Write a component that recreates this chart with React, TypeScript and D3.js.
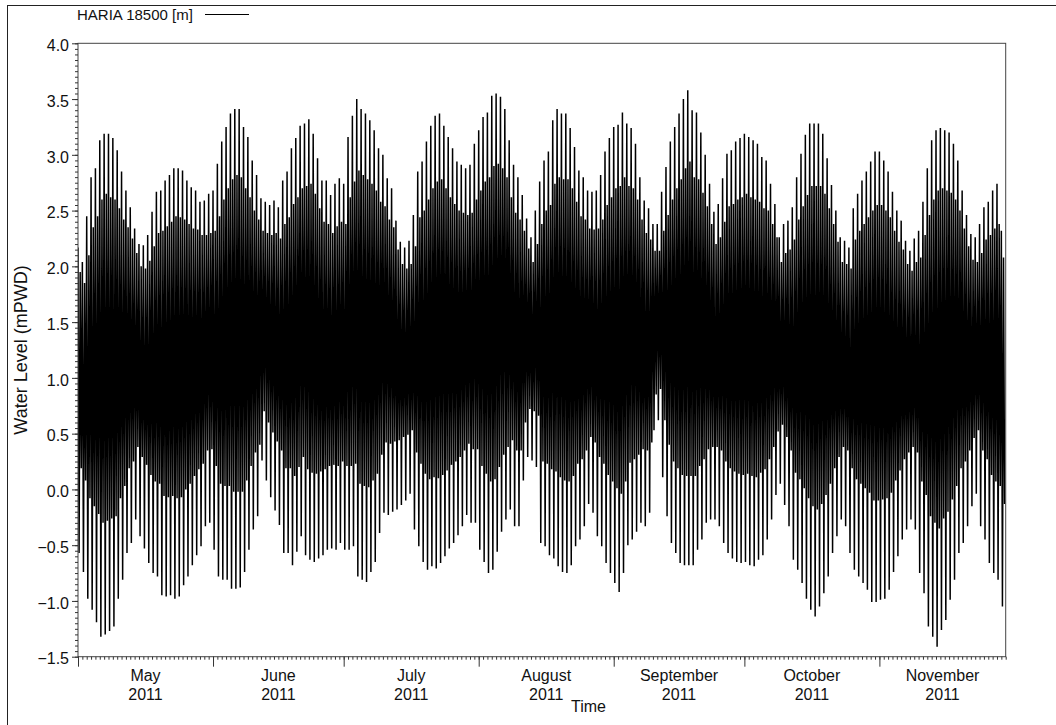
import { useEffect, useRef } from 'react';
import * as d3 from 'd3';

// time span of the record (UTC)
const START = Date.UTC(2011, 4, 1);
const END = Date.UTC(2011, 10, 30);
const DAY = 86400000;

const seriesName = 'HARIA 18500 [m]';
const monthLabels = ['May', 'June', 'July', 'August', 'September', 'October', 'November'];
const yearLabel = '2011';
const yTicks = [-1.5, -1.0, -0.5, 0.0, 0.5, 1.0, 1.5, 2.0, 2.5, 3.0, 3.5, 4.0];

// daily higher high water (m), 1 May .. 29 Nov
const highHigh = [
  2.17, 2.04, 2.45, 2.80, 2.88, 3.13, 3.19, 3.19, 3.15, 3.04,
  2.85, 2.68, 2.53, 2.34, 2.20, 2.19, 2.28, 2.49, 2.67, 2.68,
  2.77, 2.82, 2.88, 2.88, 2.86, 2.77, 2.71, 2.68, 2.58, 2.59,
  2.65, 2.68, 2.92, 3.12, 3.25, 3.37, 3.41, 3.41, 3.25, 3.16,
  2.95, 2.82, 2.61, 2.58, 2.55, 2.59, 2.53, 2.77, 2.85, 3.06,
  3.15, 3.26, 3.28, 3.32, 3.19, 2.97, 2.77, 2.77, 2.64, 2.74,
  2.79, 2.74, 3.16, 3.35, 3.50, 3.41, 3.37, 3.31, 3.22, 3.06,
  3.00, 2.79, 2.70, 2.41, 2.22, 2.17, 2.23, 2.46, 2.85, 2.94,
  3.12, 3.26, 3.35, 3.37, 3.26, 3.16, 3.06, 2.94, 2.91, 2.88,
  2.91, 3.10, 3.22, 3.34, 3.38, 3.53, 3.55, 3.52, 3.41, 3.13,
  2.91, 2.80, 2.64, 2.43, 2.26, 2.50, 2.76, 2.95, 3.03, 3.31,
  3.41, 3.37, 3.37, 3.24, 3.07, 2.86, 2.80, 2.68, 2.67, 2.68,
  2.82, 3.03, 3.15, 3.25, 3.27, 3.38, 3.28, 3.24, 3.10, 2.80,
  2.59, 2.52, 2.38, 2.38, 2.67, 2.89, 3.12, 3.25, 3.37, 3.50,
  3.58, 3.40, 3.38, 3.20, 3.00, 2.74, 2.49, 2.56, 2.79, 3.01,
  3.04, 3.12, 3.15, 3.19, 3.16, 3.13, 3.10, 2.98, 2.95, 2.74,
  2.56, 2.26, 2.38, 2.41, 2.53, 2.80, 3.01, 3.18, 3.28, 3.28,
  3.28, 3.19, 2.97, 2.73, 2.50, 2.26, 2.23, 2.17, 2.52, 2.65,
  2.77, 2.85, 2.94, 3.03, 3.03, 2.95, 2.85, 2.67, 2.50, 2.41,
  2.23, 2.14, 2.25, 2.32, 2.58, 2.88, 3.13, 3.22, 3.24, 3.22,
  3.20, 3.10, 2.95, 2.68, 2.46, 2.29, 2.26, 2.38, 2.53, 2.58,
  2.68, 2.74, 2.32,
];

// daily lower high water (m)
const lowHigh = [
  1.95, 1.85, 2.10, 2.35, 2.45, 2.60, 2.65, 2.62, 2.60, 2.52,
  2.42, 2.35, 2.25, 2.12, 2.00, 1.98, 2.05, 2.18, 2.30, 2.32,
  2.36, 2.40, 2.45, 2.44, 2.42, 2.38, 2.34, 2.33, 2.28, 2.28,
  2.30, 2.32, 2.45, 2.60, 2.70, 2.78, 2.82, 2.80, 2.70, 2.62,
  2.50, 2.42, 2.32, 2.30, 2.28, 2.30, 2.25, 2.38, 2.44, 2.56,
  2.62, 2.70, 2.72, 2.74, 2.65, 2.52, 2.40, 2.38, 2.30, 2.36,
  2.40, 2.38, 2.62, 2.76, 2.86, 2.82, 2.78, 2.74, 2.68, 2.58,
  2.54, 2.42, 2.35, 2.15, 2.02, 1.98, 2.02, 2.18, 2.44, 2.50,
  2.60, 2.70, 2.76, 2.78, 2.70, 2.62, 2.56, 2.50, 2.48, 2.46,
  2.48, 2.60, 2.68, 2.76, 2.80, 2.90, 2.92, 2.88, 2.80, 2.62,
  2.48, 2.42, 2.32, 2.16, 2.04, 2.20, 2.38, 2.50, 2.55, 2.74,
  2.80, 2.78, 2.78, 2.70, 2.58, 2.45, 2.42, 2.34, 2.33, 2.34,
  2.42, 2.55, 2.62, 2.70, 2.72, 2.80, 2.72, 2.70, 2.60, 2.42,
  2.30, 2.24, 2.14, 2.14, 2.32, 2.46, 2.60, 2.70, 2.78, 2.88,
  2.94, 2.80, 2.78, 2.66, 2.54, 2.38, 2.20, 2.26, 2.40, 2.54,
  2.56, 2.60, 2.62, 2.65, 2.62, 2.60, 2.58, 2.52, 2.50, 2.38,
  2.26, 2.04, 2.12, 2.15, 2.24, 2.42, 2.54, 2.64, 2.72, 2.72,
  2.72, 2.65, 2.52, 2.38, 2.22, 2.04, 2.02, 1.98, 2.24, 2.32,
  2.38, 2.44, 2.50, 2.55, 2.55, 2.50, 2.44, 2.32, 2.22, 2.15,
  2.02, 1.96, 2.04, 2.08, 2.28, 2.46, 2.60, 2.68, 2.70, 2.68,
  2.66, 2.60, 2.50, 2.34, 2.18, 2.06, 2.04, 2.12, 2.24, 2.28,
  2.34, 2.38, 2.08,
];

// daily lower low water (m)
const lowLow = [
  -0.57, -0.74, -0.98, -1.08, -1.19, -1.32, -1.30, -1.27, -1.23, -0.98,
  -0.81, -0.57, -0.48, -0.27, -0.42, -0.53, -0.66, -0.75, -0.78, -0.95,
  -0.96, -0.95, -0.98, -0.96, -0.86, -0.78, -0.68, -0.59, -0.51, -0.33,
  -0.30, -0.54, -0.78, -0.81, -0.81, -0.89, -0.89, -0.88, -0.74, -0.54,
  -0.36, -0.24, 0.26, 0.08, -0.07, -0.19, -0.32, -0.57, -0.57, -0.68,
  -0.56, -0.42, -0.59, -0.63, -0.65, -0.62, -0.59, -0.54, -0.53, -0.54,
  -0.48, -0.54, -0.54, -0.51, -0.78, -0.81, -0.83, -0.74, -0.65, -0.39,
  -0.21, -0.23, -0.20, -0.18, -0.14, -0.10, -0.04, -0.36, -0.51, -0.65,
  -0.72, -0.69, -0.71, -0.66, -0.60, -0.53, -0.48, -0.41, -0.33, -0.23,
  -0.30, -0.30, -0.54, -0.65, -0.75, -0.72, -0.56, -0.38, -0.27, -0.18,
  -0.33, -0.33, 0.08, 0.29, 0.26, 0.20, -0.48, -0.51, -0.59, -0.62,
  -0.69, -0.74, -0.75, -0.68, -0.51, -0.45, -0.33, -0.13, -0.21, -0.42,
  -0.51, -0.66, -0.75, -0.84, -0.92, -0.75, -0.50, -0.45, -0.38, -0.30,
  -0.33, -0.21, 0.53, 0.62, 0.11, -0.24, -0.48, -0.57, -0.66, -0.68,
  -0.68, -0.68, -0.54, -0.45, -0.30, -0.27, -0.27, -0.33, -0.48, -0.57,
  -0.62, -0.65, -0.66, -0.65, -0.68, -0.69, -0.63, -0.59, -0.45, -0.27,
  -0.05, 0.05, -0.14, -0.33, -0.63, -0.72, -0.84, -0.98, -1.08, -1.14,
  -1.05, -0.93, -0.78, -0.57, -0.42, -0.27, -0.33, -0.57, -0.72, -0.78,
  -0.84, -0.90, -1.01, -1.01, -0.99, -0.98, -0.90, -0.74, -0.60, -0.45,
  -0.36, -0.27, -0.36, -0.75, -0.93, -1.23, -1.32, -1.41, -1.26, -1.17,
  -0.99, -0.81, -0.57, -0.48, -0.33, -0.15, -0.04, -0.33, -0.45, -0.66,
  -0.75, -0.81, -1.05,
];

// daily higher low water (m)
const highLow = [
  0.19, 0.08, -0.08, -0.15, -0.22, -0.30, -0.28, -0.26, -0.24, -0.08,
  0.03, 0.19, 0.25, 0.38, 0.29, 0.22, 0.13, 0.07, 0.05, -0.06,
  -0.07, -0.06, -0.08, -0.07, 0.00, 0.05, 0.12, 0.18, 0.23, 0.35,
  0.36, 0.21, 0.05, 0.03, 0.03, -0.02, -0.02, -0.02, 0.08, 0.21,
  0.33, 0.40, 0.70, 0.60, 0.51, 0.43, 0.35, 0.19, 0.19, 0.12,
  0.20, 0.29, 0.18, 0.15, 0.14, 0.16, 0.18, 0.21, 0.22, 0.21,
  0.25, 0.21, 0.21, 0.23, 0.05, 0.03, 0.02, 0.08, 0.14, 0.31,
  0.42, 0.41, 0.43, 0.44, 0.47, 0.49, 0.53, 0.33, 0.23, 0.14,
  0.09, 0.11, 0.10, 0.13, 0.17, 0.22, 0.25, 0.29, 0.35, 0.41,
  0.36, 0.36, 0.21, 0.14, 0.07, 0.09, 0.20, 0.31, 0.38, 0.44,
  0.35, 0.35, 0.60, 0.72, 0.70, 0.66, 0.25, 0.23, 0.18, 0.16,
  0.11, 0.08, 0.07, 0.12, 0.23, 0.27, 0.35, 0.47, 0.42, 0.29,
  0.23, 0.13, 0.07, 0.01, -0.04, 0.07, 0.24, 0.27, 0.31, 0.36,
  0.35, 0.42, 0.85, 0.90, 0.62, 0.40, 0.25, 0.19, 0.13, 0.12,
  0.12, 0.12, 0.21, 0.27, 0.36, 0.38, 0.38, 0.35, 0.25, 0.19,
  0.16, 0.14, 0.13, 0.14, 0.12, 0.11, 0.15, 0.18, 0.27, 0.38,
  0.52, 0.58, 0.47, 0.35, 0.15, 0.09, 0.01, -0.08, -0.15, -0.18,
  -0.13, -0.05, 0.05, 0.19, 0.29, 0.38, 0.35, 0.19, 0.09, 0.05,
  0.01, -0.03, -0.10, -0.10, -0.09, -0.08, -0.03, 0.08, 0.17, 0.27,
  0.33, 0.38, 0.33, 0.07, -0.05, -0.24, -0.30, -0.35, -0.26, -0.20,
  -0.09, 0.03, 0.19, 0.25, 0.35, 0.46, 0.53, 0.35, 0.27, 0.13,
  0.07, 0.03, -0.13,
];

const FONT = "'Liberation Sans', Arial, sans-serif";

export default function App() {
  const svgRef = useRef(null);

  useEffect(() => {
    const svg = d3.select(svgRef.current);
    svg.selectAll('*').remove();

    const left = 78, right = 1005.7, top = 43.3, bottom = 656.7;

    const x = d3.scaleUtc().domain([START, END]).range([left, right]);
    const y = d3.scaleLinear().domain([-1.5, 4.0]).range([bottom, top]);

    // outer frame (only top/left edges fall inside the picture)
    svg.append('rect')
      .attr('x', 7.5).attr('y', 5.5)
      .attr('width', 1200).attr('height', 900)
      .attr('fill', 'none').attr('stroke', '#222');

    // tide sequence: HH -> LL -> LH -> HL each day
    const points = [];
    highHigh.forEach((hh, d) => {
      points.push([START + d * DAY, hh]);
      points.push([START + (d + 0.25) * DAY, lowLow[d]]);
      points.push([START + (d + 0.5) * DAY, lowHigh[d]]);
      points.push([START + (d + 0.75) * DAY, highLow[d]]);
    });

    svg.append('clipPath').attr('id', 'plotClip')
      .append('rect')
      .attr('x', left).attr('y', top)
      .attr('width', right - left).attr('height', bottom - top);

    const line = d3.line()
      .x(p => x(p[0]))
      .y(p => y(p[1]));

    svg.append('path')
      .datum(points)
      .attr('clip-path', 'url(#plotClip)')
      .attr('d', line)
      .attr('fill', 'none')
      .attr('stroke', '#000')
      .attr('stroke-width', 1.5)
      .attr('stroke-linejoin', 'miter')
      .attr('stroke-miterlimit', 2);

    // plot border
    svg.append('rect')
      .attr('x', left).attr('y', top)
      .attr('width', right - left).attr('height', bottom - top)
      .attr('fill', 'none').attr('stroke', '#444');

    // y axis: minor + major
    const yMinor = svg.append('g').attr('transform', `translate(${left},0)`)
      .call(d3.axisLeft(y).tickValues(d3.range(-1.5, 4.001, 0.05)).tickSize(3).tickFormat(() => ''));
    yMinor.select('.domain').remove();
    yMinor.selectAll('line').attr('stroke', '#333');

    const yMajor = svg.append('g').attr('transform', `translate(${left},0)`)
      .call(d3.axisLeft(y).tickValues(yTicks).tickSize(6).tickPadding(3).tickFormat(d3.format('.1f')));
    yMajor.select('.domain').remove();
    yMajor.selectAll('line').attr('stroke', '#333');
    yMajor.selectAll('text')
      .attr('font-family', FONT)
      .attr('font-size', 16)
      .attr('fill', '#111')
      .attr('dy', '0.45em');

    // x axis: daily minor, monthly major
    const xMinor = svg.append('g').attr('transform', `translate(0,${bottom})`)
      .call(d3.axisBottom(x).ticks(d3.utcDay.every(1)).tickSize(3).tickFormat(() => ''));
    xMinor.select('.domain').remove();
    xMinor.selectAll('line').attr('stroke', '#333');

    const xMajor = svg.append('g').attr('transform', `translate(0,${bottom})`)
      .call(d3.axisBottom(x).tickValues(d3.utcMonth.range(START, END)).tickSize(10).tickFormat(() => ''));
    xMajor.select('.domain').remove();
    xMajor.selectAll('line').attr('stroke', '#333');

    // month labels, centred on each month
    const labels = svg.append('g')
      .attr('font-family', FONT)
      .attr('font-size', 16)
      .attr('fill', '#111')
      .attr('text-anchor', 'middle');
    monthLabels.forEach((m, i) => {
      const a = Date.UTC(2011, 4 + i, 1);
      const b = Math.min(Date.UTC(2011, 5 + i, 1), END);
      const cx = (x(a) + x(b)) / 2;
      labels.append('text').attr('x', cx).attr('y', 680.5).text(m);
      labels.append('text').attr('x', cx).attr('y', 699.5).text(yearLabel);
    });

    // axis titles
    svg.append('text')
      .attr('x', 588.5).attr('y', 712)
      .attr('text-anchor', 'middle')
      .attr('font-family', FONT).attr('font-size', 16).attr('fill', '#111')
      .text('Time');

    svg.append('text')
      .attr('transform', `translate(27,${(top + bottom) / 2}) rotate(-90)`)
      .attr('text-anchor', 'middle')
      .attr('font-family', FONT).attr('font-size', 18).attr('fill', '#111')
      .text('Water Level (mPWD)');

    // legend
    svg.append('text')
      .attr('x', 77).attr('y', 20)
      .attr('font-family', FONT).attr('font-size', 15).attr('fill', '#111')
      .text(seriesName);
    svg.append('line')
      .attr('x1', 205).attr('x2', 249)
      .attr('y1', 14.5).attr('y2', 14.5)
      .attr('stroke', '#000').attr('stroke-width', 1);
  }, []);

  return (
    <svg
      ref={svgRef}
      width={1056}
      height={725}
      style={{ position: 'absolute', left: 0, top: 0, background: '#fff' }}
    />
  );
}
